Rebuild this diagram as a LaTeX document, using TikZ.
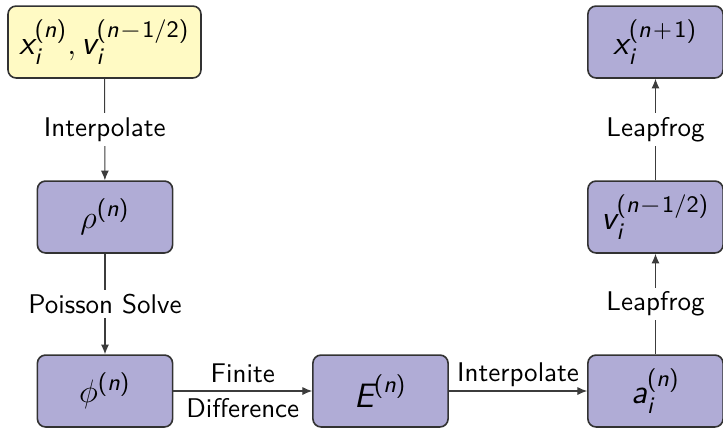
\documentclass[tikz,border=0pt]{standalone}
\usepackage{amsmath}
\usepackage{fontspec}
\usetikzlibrary{arrows.meta}
\definecolor{boxfill}{RGB}{176,172,214}
\definecolor{yelfill}{RGB}{255,250,196}
\definecolor{edge}{RGB}{50,50,50}
\definecolor{conn}{RGB}{60,60,60}
\newcommand\sfi[1]{\text{\sffamily\itshape #1}}
\newcommand\sfu[1]{\text{\sffamily #1}}
\newcommand\pn{\sfu{(}\sfi{n}\sfu{)}}
\newcommand\pnh{\sfu{(}\sfi{n}\sfu{\kern0.1em−\kern0.1em1/2)}}
\newcommand\pnp{\sfu{(}\sfi{n}\sfu{\kern0.1em+\kern0.1em1)}}
\tikzset{
  box/.style={draw=edge, line width=0.6pt, fill=boxfill, rounded corners=3pt,
    minimum width=50pt, minimum height=26.6pt, inner sep=0pt, font=\sffamily\fontsize{12.5}{15}\selectfont},
  ybox/.style={box, fill=yelfill, minimum width=71.4pt},
  conn/.style={draw=conn, line width=0.4pt},
  arr/.style={conn, -{Latex[length=3.6pt,width=3pt]}},
  lbl/.style={font=\sffamily, fill=white, inner sep=1.5pt}
}
\begin{document}
\begin{tikzpicture}[x=0.37pt,y=-0.37pt]
\useasboundingbox (0,0) rectangle (723,428);
\node[ybox] (xv) at (104.5,42) {$\sfi{x}_{\sfi{i}}^{\pn}, \sfi{v}_{\sfi{i}}^{\pnh}$};
\node[box] (rho) at (105,217) {$\rho^{\pn}$};
\node[box] (phi) at (105,391) {$\phi^{\pn}$};
\node[box] (E) at (380.5,391) {$\sfi{E}^{\pn}$};
\node[box] (a) at (655.5,391) {$\sfi{a}_{\sfi{i}}^{\pn}$};
\node[box] (v) at (655.5,217) {$\sfi{v}_{\sfi{i}}^{\pnh}$};
\node[box] (xn) at (655.5,42) {$\sfi{x}_{\sfi{i}}^{\pnp}$};

\draw[arr] (xv) -- node[lbl] {Interpolate} (rho);
\draw[arr] (rho) -- node[lbl] {Poisson Solve} (phi);
\draw[arr] (phi) -- node[font=\sffamily, align=center, inner sep=1pt] {Finite\\[1pt]Difference} (E);
\draw[arr] (E) -- node[font=\sffamily, above, inner sep=1.5pt] {Interpolate} (a);
\draw[arr] (a) -- node[lbl] {Leapfrog} (v);
\draw[arr] (v) -- node[lbl] {Leapfrog} (xn);
\end{tikzpicture}
\end{document}
